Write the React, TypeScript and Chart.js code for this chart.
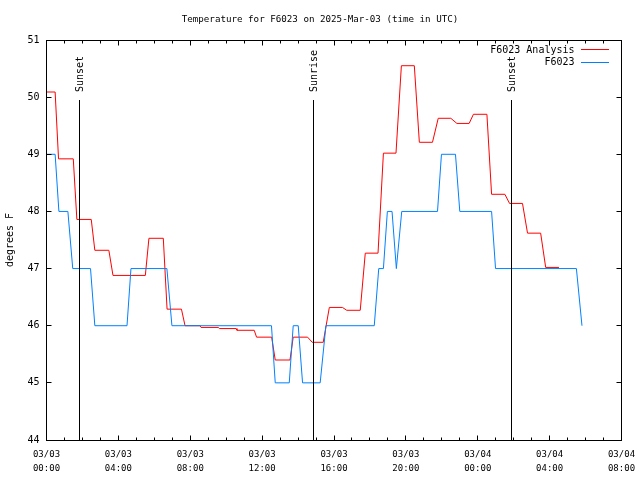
import React, { useEffect, useRef } from 'react';
import { Chart, registerables } from 'chart.js';

Chart.register(...registerables);

// Hours since 2025-03-03 00:00 UTC
const analysisHours = [0, 0.48, 0.67, 1.49, 1.69, 2.49, 2.69, 3.47, 3.7, 5.5, 5.7, 6.5, 6.71, 7.51, 7.71, 8.55, 8.6, 9.57, 9.62, 10.55, 10.6, 11.56, 11.69, 12.53, 12.73, 13.55, 13.73, 14.53, 14.79, 15.4, 15.74, 16.47, 16.71, 17.46, 17.74, 18.45, 18.75, 19.45, 19.75, 20.47, 20.75, 21.48, 21.8, 22.5, 22.84, 23.52, 23.76, 24.51, 24.77, 25.51, 25.77, 26.49, 26.77, 27.5, 27.78, 28.52];
const analysisTemps = [50.09, 50.09, 48.92, 48.92, 47.86, 47.86, 47.32, 47.32, 46.88, 46.88, 47.53, 47.53, 46.29, 46.29, 46.0, 46.0, 45.97, 45.97, 45.95, 45.95, 45.92, 45.92, 45.8, 45.8, 45.4, 45.4, 45.8, 45.8, 45.71, 45.71, 46.32, 46.32, 46.27, 46.27, 47.27, 47.27, 49.02, 49.02, 50.55, 50.55, 49.21, 49.21, 49.63, 49.63, 49.54, 49.54, 49.7, 49.7, 48.3, 48.3, 48.14, 48.14, 47.62, 47.62, 47.02, 47.02];

const obsHours = [0, 0.48, 0.69, 1.19, 1.46, 2.45, 2.69, 4.48, 4.7, 6.7, 6.98, 12.52, 12.73, 13.51, 13.73, 14.01, 14.25, 15.23, 15.55, 18.24, 18.49, 18.75, 18.97, 19.23, 19.47, 19.77, 21.76, 21.98, 22.76, 23.0, 24.77, 24.99, 29.49, 29.8];
const obsTemps = [49, 49, 48, 48, 47, 47, 46, 46, 47, 47, 46, 46, 45, 45, 46, 46, 45, 45, 46, 46, 47, 47, 48, 48, 47, 48, 48, 49, 49, 48, 48, 47, 47, 46];

const xTickDates = ['03/03', '03/03', '03/03', '03/03', '03/03', '03/03', '03/04', '03/04', '03/04'];
const xTickTimes = ['00:00', '04:00', '08:00', '12:00', '16:00', '20:00', '00:00', '04:00', '08:00'];
const yTickValues = [44, 45, 46, 47, 48, 49, 50, 51];

const eventNames = ['Sunset', 'Sunrise', 'Sunset'];
const eventHours = [1.82, 14.88, 25.88];

const seriesNames = ['F6023 Analysis', 'F6023'];
const seriesColors = ['#ff0000', '#0080ff'];

const titleText = 'Temperature for F6023 on 2025-Mar-03 (time in UTC)';
const yTitle = 'degrees F';

const MONO = '"DejaVu Sans Mono", monospace';
const FONT = '10px ' + MONO;

const crisp = (p: number) => Math.floor(p) + 0.5;

const decorPlugin = {
  id: 'decor',
  afterDatasetsDraw(chart: any) {
    const { ctx, chartArea: a, scales } = chart;
    const xs = scales.x;
    const ys = scales.y;
    ctx.save();
    ctx.strokeStyle = '#000';
    ctx.fillStyle = '#000';
    ctx.lineWidth = 1;

    // event lines
    ctx.font = FONT;
    eventHours.forEach((h, i) => {
      const px = crisp(xs.getPixelForValue(h));
      const topY = Math.round(ys.getPixelForValue(49.95));
      ctx.beginPath();
      ctx.moveTo(px, topY);
      ctx.lineTo(px, a.bottom);
      ctx.stroke();
      ctx.save();
      ctx.translate(px + 0.5, topY - 8);
      ctx.rotate(-Math.PI / 2);
      ctx.textAlign = 'left';
      ctx.textBaseline = 'middle';
      ctx.fillText(eventNames[i], 0, 0);
      ctx.restore();
    });

    // frame
    const L = crisp(a.left), R = crisp(a.right), T = crisp(a.top), B = crisp(a.bottom);
    ctx.strokeRect(L, T, R - L, B - T);

    // x ticks (major every 4h, minor every 1h)
    for (let h = xs.min; h <= xs.max; h += 1) {
      const px = crisp(xs.getPixelForValue(h));
      const len = h % 4 === 0 ? 5 : 3;
      ctx.beginPath();
      ctx.moveTo(px, B);
      ctx.lineTo(px, B - len);
      ctx.moveTo(px, T);
      ctx.lineTo(px, T + len);
      ctx.stroke();
    }
    // y ticks
    yTickValues.forEach((v) => {
      const py = crisp(ys.getPixelForValue(v));
      ctx.beginPath();
      ctx.moveTo(L, py);
      ctx.lineTo(L + 5, py);
      ctx.moveTo(R, py);
      ctx.lineTo(R - 5, py);
      ctx.stroke();
    });

    // legend
    ctx.font = FONT;
    ctx.textAlign = 'right';
    ctx.textBaseline = 'middle';
    seriesNames.forEach((n, i) => {
      const ly = a.top + 10 + i * 12.5;
      ctx.fillStyle = '#000';
      ctx.fillText(n, a.right - 47, ly);
      ctx.strokeStyle = seriesColors[i];
      ctx.beginPath();
      ctx.moveTo(a.right - 40.5, Math.round(ly) - 0.5);
      ctx.lineTo(a.right - 12.5, Math.round(ly) - 0.5);
      ctx.stroke();
    });

    // title
    ctx.fillStyle = '#000';
    ctx.font = '9.2px ' + MONO;
    ctx.textAlign = 'center';
    ctx.textBaseline = 'middle';
    ctx.fillText(titleText, 320, 20);

    // y title
    ctx.font = FONT;
    ctx.save();
    ctx.translate(10, (a.top + a.bottom) / 2);
    ctx.rotate(-Math.PI / 2);
    ctx.textAlign = 'center';
    ctx.textBaseline = 'middle';
    ctx.fillText(yTitle, 0, 0);
    ctx.restore();

    ctx.restore();
  },
};

export default function App() {
  const ref = useRef<HTMLCanvasElement>(null);
  useEffect(() => {
    if (!ref.current) return;
    const chart = new Chart(ref.current, {
      type: 'line',
      data: {
        datasets: [
          {
            label: seriesNames[0],
            data: analysisHours.map((h, i) => ({ x: h, y: analysisTemps[i] })),
            borderColor: seriesColors[0],
            borderWidth: 1,
            pointRadius: 0,
            tension: 0,
            fill: false,
            order: 2,
          },
          {
            label: seriesNames[1],
            data: obsHours.map((h, i) => ({ x: h, y: obsTemps[i] })),
            borderColor: seriesColors[1],
            borderWidth: 1,
            pointRadius: 0,
            tension: 0,
            fill: false,
            order: 1,
          },
        ],
      },
      options: {
        responsive: false,
        animation: false,
        devicePixelRatio: 1,
        layout: { padding: { left: 0, right: 18.5, top: 40, bottom: 0 } },
        plugins: { legend: { display: false }, tooltip: { enabled: false }, title: { display: false } },
        scales: {
          x: {
            type: 'linear',
            min: 0,
            max: 32,
            border: { display: false },
            grid: { display: false, drawTicks: false },
            ticks: {
              stepSize: 4,
              autoSkip: false,
              maxRotation: 0,
              padding: 8,
              color: '#000',
              font: { family: MONO, size: 9, lineHeight: 1.55 },
              callback: (_v: any, i: number) => [xTickDates[i], xTickTimes[i]],
            },
            afterFit: (s: any) => { s.height = 40; s.paddingLeft = 0; s.paddingRight = 0; },
          },
          y: {
            min: 44,
            max: 51,
            border: { display: false },
            grid: { display: false, drawTicks: false },
            ticks: {
              stepSize: 1,
              autoSkip: false,
              padding: 7,
              color: '#000',
              font: { family: MONO, size: 10 },
            },
            afterFit: (s: any) => { s.width = 46.5; s.paddingTop = 0; s.paddingBottom = 0; },
          },
        },
      },
      plugins: [decorPlugin],
    });
    return () => chart.destroy();
  }, []);
  return (
    <div style={{ position: 'absolute', left: 0, top: 0, width: 640, height: 480, background: '#fff' }}>
      <canvas ref={ref} width={640} height={480} />
    </div>
  );
}
